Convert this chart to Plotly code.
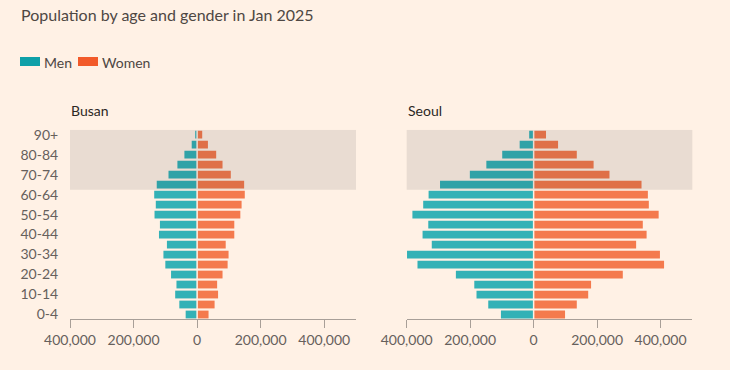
import plotly.graph_objects as go

# ---------------- data ----------------
ages = ["0-4", "5-9", "10-14", "15-19", "20-24", "25-29", "30-34", "35-39", "40-44",
        "45-49", "50-54", "55-59", "60-64", "65-69", "70-74", "75-79", "80-84", "85-89", "90+"]
busan_men = [36000, 56000, 69000, 65000, 82000, 100000, 106000, 95000, 120000, 117000,
             134000, 130000, 135000, 127000, 90000, 62000, 40000, 17000, 6000]
busan_women = [36000, 55000, 66000, 63000, 80000, 96000, 99000, 90000, 117000, 117000,
               136000, 140000, 150000, 148000, 106000, 80000, 60000, 34000, 16000]
seoul_men = [103000, 143000, 180000, 187000, 245000, 366000, 399000, 321000, 350000, 332000,
             382000, 348000, 331000, 295000, 201000, 149000, 99000, 44000, 14000]
seoul_women = [99000, 136000, 172000, 181000, 281000, 411000, 398000, 323000, 356000, 344000,
               394000, 363000, 360000, 340000, 239000, 189000, 136000, 77000, 39000]
cities = ["Busan", "Seoul"]
series_names = ["Men", "Women"]
x_tickvals = [-400000, -200000, 0, 200000, 400000]
x_ticktext = ["400,000", "200,000", "0", "200,000", "400,000"]
y_tickvals = ages[::2]
title_text = "Population by age and gender in Jan 2025"

# ---------------- style ----------------
BG = "#fff1e5"
MEN = "#33b1b6"
WOMEN = "#f47a4d"
MEN_LEG = "#0fa0a8"
WOMEN_LEG = "#f25a2a"
TXT = "#4e4743"
TICK = "#66605c"
AXLINE = "#a89f98"
FONT = "Lato"
W, H = 730, 370


def px(x):
    return x / W


def py(y):
    return 1 - y / H


fig = go.Figure()
data = [(busan_men, busan_women), (seoul_men, seoul_women)]
for i, (men, women) in enumerate(data):
    xa = "x" if i == 0 else "x2"
    ya = "y" if i == 0 else "y2"
    fig.add_trace(go.Bar(y=ages, x=[-v for v in men], orientation="h", name=series_names[0],
                         marker=dict(color=MEN, line=dict(width=0)), xaxis=xa, yaxis=ya,
                         showlegend=False))
    fig.add_trace(go.Bar(y=ages, x=women, orientation="h", name=series_names[1],
                         marker=dict(color=WOMEN, line=dict(width=0)), xaxis=xa, yaxis=ya,
                         showlegend=False))

x_domains = [[px(70), px(356)], [px(406.7), px(692.3)]]
y_domain = [py(319), py(129.7)]

common_x = dict(range=[-400000, 500000], tickvals=x_tickvals, ticktext=x_ticktext,
                showline=True, linecolor=AXLINE, linewidth=1, ticks="outside", ticklen=8,
                tickcolor=AXLINE, tickwidth=1, showgrid=False, zeroline=False,
                automargin=False,
                tickfont=dict(family=FONT, size=14, color=TICK), fixedrange=True)
common_y = dict(type="category", categoryorder="array", categoryarray=ages,
                range=[-0.45, 18.5], domain=y_domain, showgrid=False, zeroline=False,
                showline=False, tickvals=y_tickvals, ticks="outside", ticklen=8,
                automargin=False,
                tickcolor="rgba(0,0,0,0)", tickfont=dict(family=FONT, size=14, color=TICK),
                fixedrange=True)

fig.update_layout(
    template="none",
    width=W, height=H, autosize=False,
    margin=dict(l=0, r=0, t=0, b=0, pad=0),
    paper_bgcolor=BG, plot_bgcolor=BG,
    barmode="overlay", bargap=0.22,
    showlegend=False,
    xaxis=dict(domain=x_domains[0], anchor="y", **common_x),
    xaxis2=dict(domain=x_domains[1], anchor="y2", **common_x),
    yaxis=dict(anchor="x", **common_y),
    yaxis2=dict(anchor="x2", showticklabels=False, **common_y),
    font=dict(family=FONT, color=TXT),
)

shapes = []
for i in range(2):
    xr = "x" if i == 0 else "x2"
    yr = "y" if i == 0 else "y2"
    shapes.append(dict(type="line", xref=xr, yref=yr, x0=0, x1=0, y0=-0.5, y1=18.5,
                       line=dict(color=BG, width=1.5), layer="above"))
    shapes.append(dict(type="rect", xref=xr + " domain", yref=yr, x0=0, x1=1, y0=12.5, y1=18.5,
                       fillcolor="rgba(20,20,30,0.095)", line=dict(width=0), layer="above"))

# legend swatches
shapes.append(dict(type="rect", xref="paper", yref="paper", x0=px(20), x1=px(40),
                   y0=py(66), y1=py(57), fillcolor=MEN_LEG, line=dict(width=0)))
shapes.append(dict(type="rect", xref="paper", yref="paper", x0=px(78), x1=px(98),
                   y0=py(66), y1=py(57), fillcolor=WOMEN_LEG, line=dict(width=0)))

annotations = [
    dict(text=title_text, x=px(19), y=py(14), xref="paper", yref="paper", xanchor="left",
         yanchor="middle", showarrow=False, font=dict(family=FONT, size=16, color=TXT)),
    dict(text=series_names[0], x=px(42), y=py(62), xref="paper", yref="paper", xanchor="left",
         yanchor="middle", showarrow=False, font=dict(family=FONT, size=14, color=TXT)),
    dict(text=series_names[1], x=px(100), y=py(62), xref="paper", yref="paper", xanchor="left",
         yanchor="middle", showarrow=False, font=dict(family=FONT, size=14, color=TXT)),
    dict(text=cities[0], x=px(69), y=py(110), xref="paper", yref="paper", xanchor="left",
         yanchor="middle", showarrow=False,
         font=dict(family=FONT, size=14, color="#2b2724")),
    dict(text=cities[1], x=px(406), y=py(110), xref="paper", yref="paper", xanchor="left",
         yanchor="middle", showarrow=False,
         font=dict(family=FONT, size=14, color="#2b2724")),
]
fig.update_layout(shapes=shapes, annotations=annotations)

fig.write_html("out.html",
               config={"displayModeBar": False},
               post_script="document.body.style.margin='0';document.body.style.overflow='hidden';")
